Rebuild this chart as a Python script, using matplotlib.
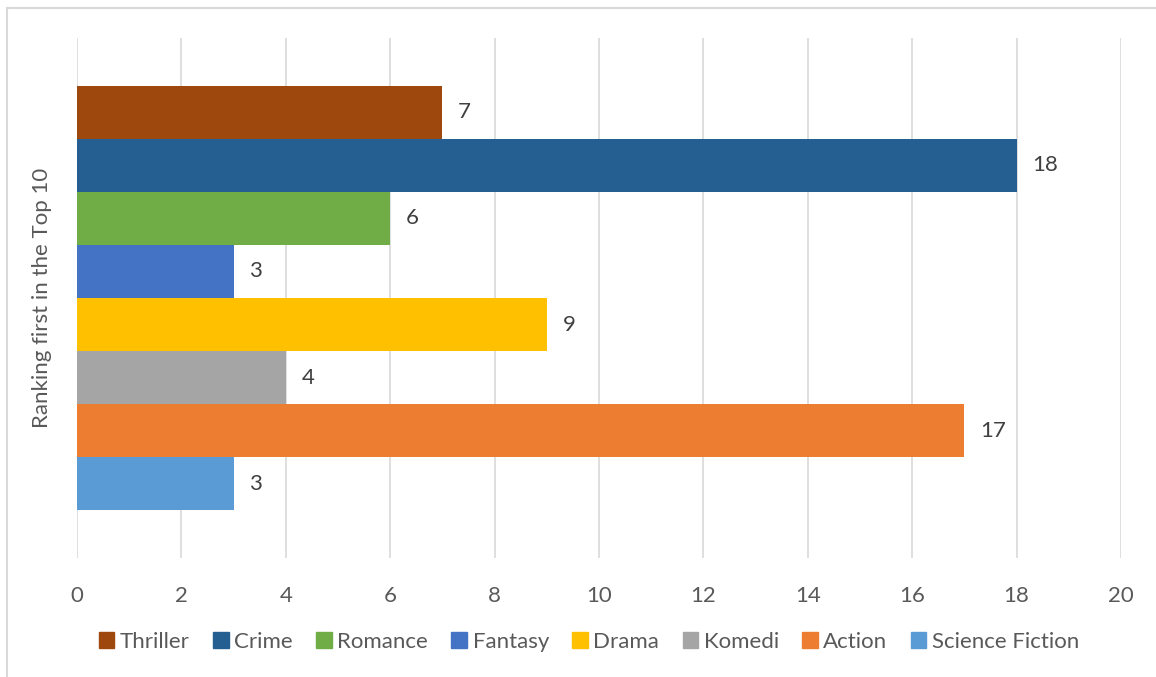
import matplotlib.pyplot as plt
from matplotlib.lines import Line2D

category = 'Ranking first in the Top 10'
genres = ['Thriller', 'Crime', 'Romance', 'Fantasy', 'Drama', 'Komedi', 'Action', 'Science Fiction']
counts = [7, 18, 6, 3, 9, 4, 17, 3]
colors = ['#9E480E', '#255E91', '#70AD47', '#4472C4', '#FFC000', '#A5A5A5', '#ED7D31', '#5B9BD5']

plt.rcParams['font.family'] = ['Lato', 'DejaVu Sans']
TEXT = '#595959'
FS = 16

fig = plt.figure(figsize=(11.56, 6.77), dpi=100)
W, H = 1156, 677
ax = fig.add_axes([77 / W, 1 - 558 / H, (1121 - 77) / W, (558 - 38) / H])

# one category, series stacked top to bottom like an Excel clustered bar
group = 0.817
h = group / len(genres)
for i, (g, v, c) in enumerate(zip(genres, counts, colors)):
    y = group / 2 - (i + 0.5) * h
    ax.barh(y, v, height=h, color=c, label=g, zorder=3)
    ax.text(v + 0.3, y, str(v), va='center', ha='left', fontsize=FS, color='#404040')

ax.set_xlim(0, 20)
ax.set_ylim(-0.5, 0.5)
ax.set_xticks(range(0, 21, 2))
ax.grid(axis='x', color='#D9D9D9', linewidth=1.2, zorder=0)
for s in ax.spines.values():
    s.set_visible(False)
ax.tick_params(axis='x', length=0, pad=20, labelsize=FS, labelcolor=TEXT)
ax.set_yticks([0])
ax.set_yticklabels([category], rotation=90, va='center', fontsize=FS, color=TEXT)
ax.tick_params(axis='y', length=0, pad=18)

handles = [plt.Rectangle((0, 0), 1, 1, color=c) for c in colors]
fig.legend(handles, genres, loc='center', bbox_to_anchor=(589 / W, 1 - 642 / H),
           ncol=8, frameon=False, fontsize=FS, labelcolor=TEXT,
           handlelength=0.7, handleheight=0.7, handletextpad=0.25, columnspacing=1.05)

# chart frame (left and top edges)
fig.add_artist(Line2D([7 / W, 7 / W], [0, 1 - 8 / H], color='#D9D9D9', linewidth=1.5))
fig.add_artist(Line2D([7 / W, 1], [1 - 8 / H, 1 - 8 / H], color='#D9D9D9', linewidth=1.5))

fig.savefig('out.png', dpi=100)
